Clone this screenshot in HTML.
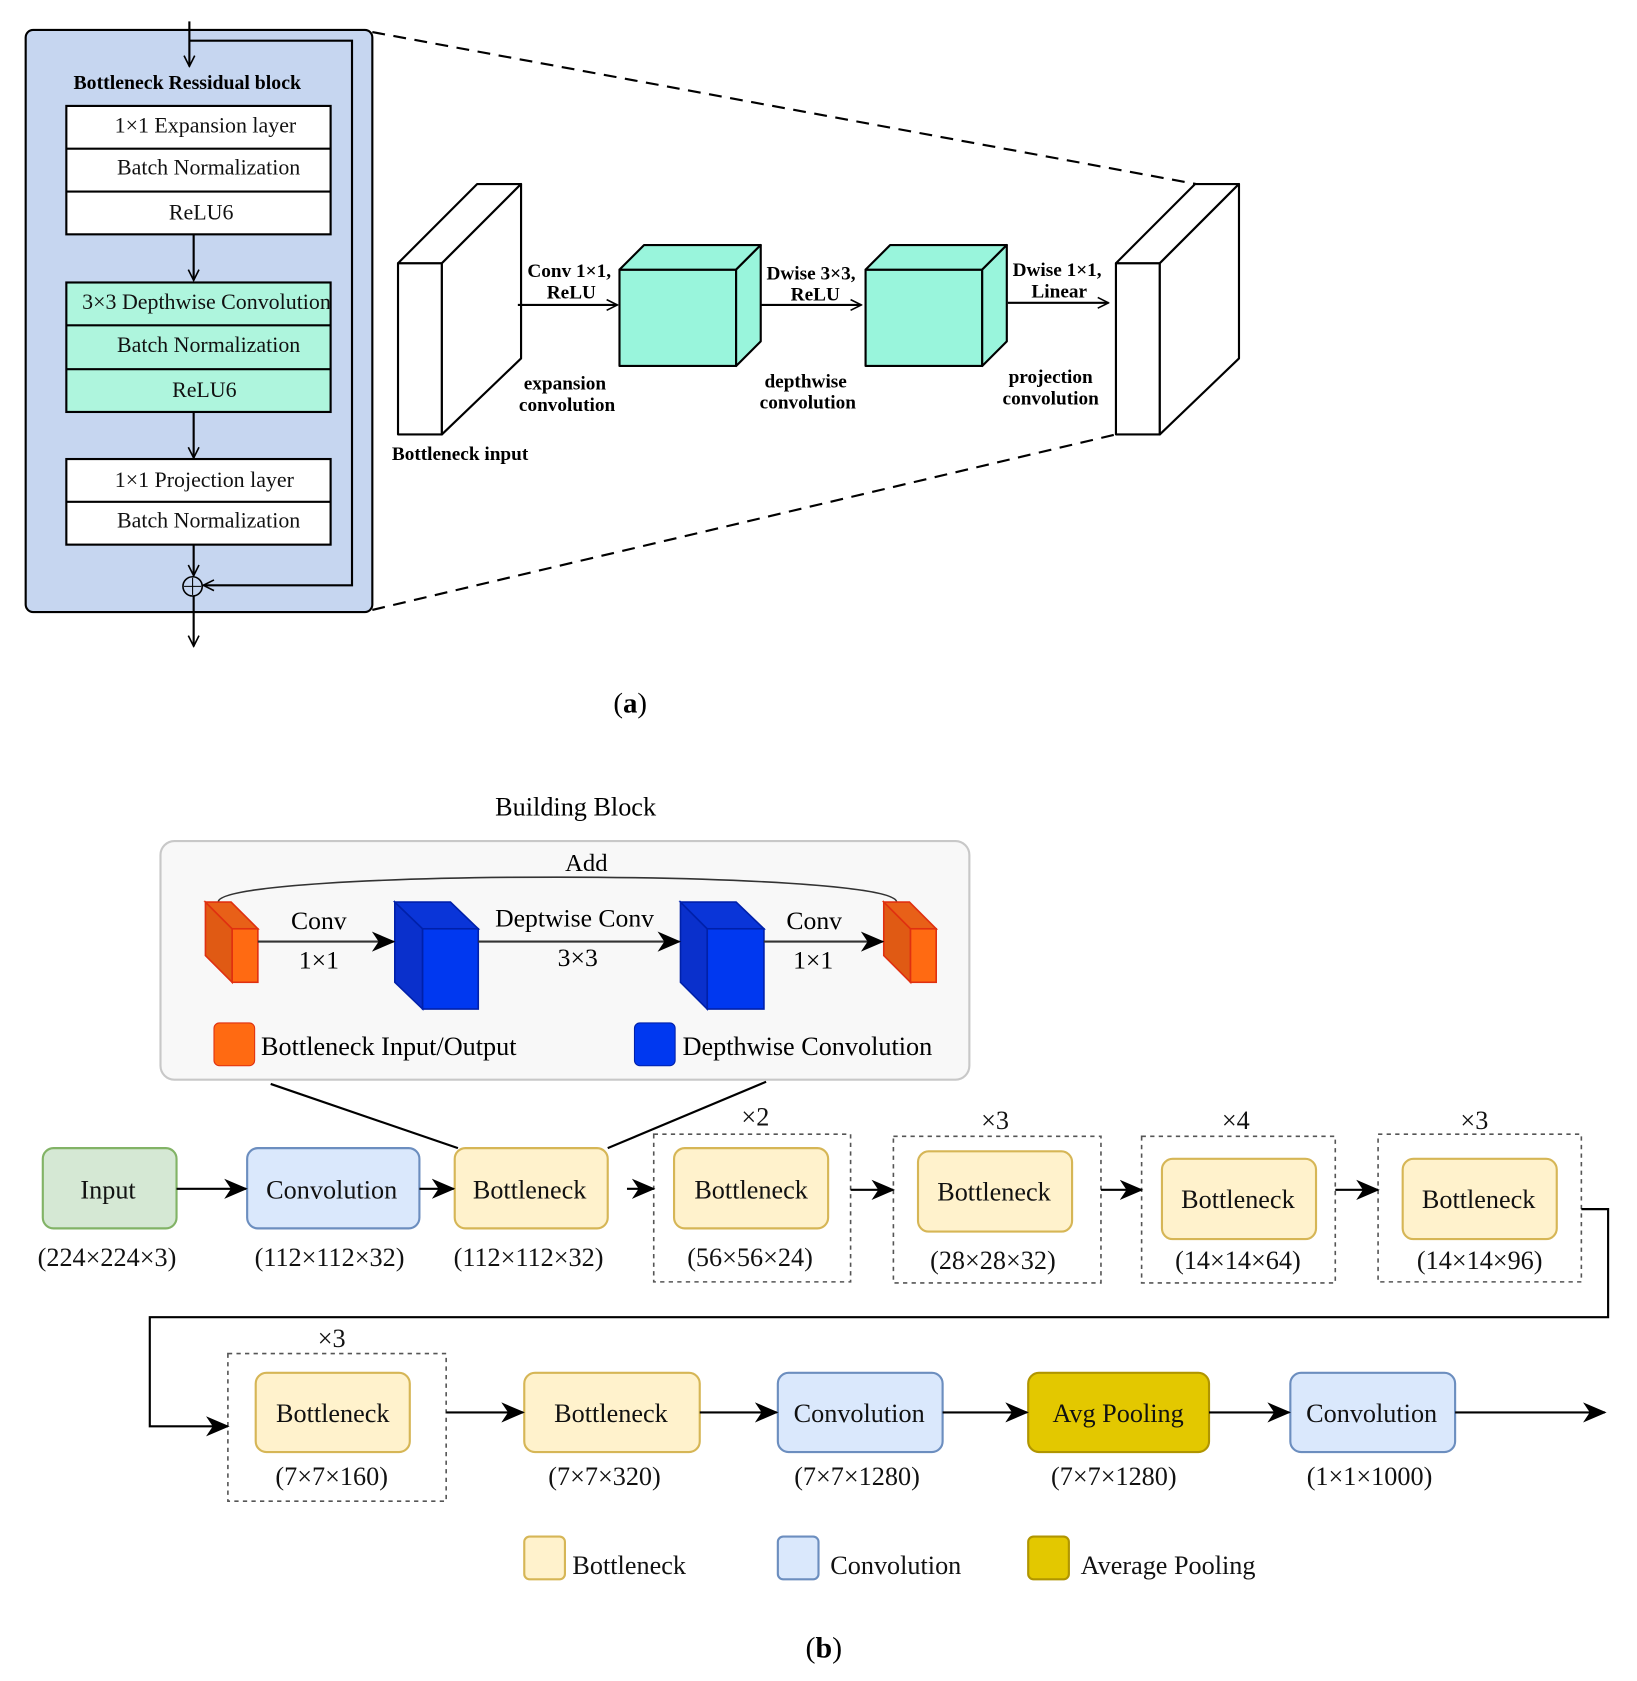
<!DOCTYPE html>
<html><head><meta charset="utf-8"><style>html,body{margin:0;padding:0;background:#fff}svg{display:block}</style></head><body>
<svg width="1637" height="1681" viewBox="0 0 1530 1571" preserveAspectRatio="none" xmlns="http://www.w3.org/2000/svg" font-family="Liberation Serif, serif">
<defs>
<marker id="o" viewBox="0 0 12 12" refX="11" refY="6" markerWidth="12" markerHeight="12" markerUnits="userSpaceOnUse" orient="auto"><path d="M1,1 L11,6 L1,11" fill="none" stroke="#000" stroke-width="1.5"/></marker>
<marker id="f" viewBox="0 0 14 14" refX="13" refY="7" markerWidth="22" markerHeight="22" markerUnits="userSpaceOnUse" orient="auto"><path d="M0,1 L14,7 L0,13 L4,7 Z" fill="#000"/></marker>
</defs>
<!-- (a) -->
<rect x="24" y="28" width="324" height="544" rx="7" fill="#c6d6f0" stroke="#000" stroke-width="2"/>
<line x1="177" y1="20" x2="177" y2="62" stroke="#000" stroke-width="2" marker-end="url(#o)"/>
<polyline points="177,38 329,38 329,547 190,547" fill="none" stroke="#000" stroke-width="2" marker-end="url(#o)"/>
<text x="175" y="83" font-size="18.5" font-weight="bold" text-anchor="middle">Bottleneck Ressidual block</text>
<g stroke="#000" stroke-width="2">
<rect x="62" y="99" width="247" height="120" fill="#fff"/><line x1="62" y1="139" x2="309" y2="139"/><line x1="62" y1="179" x2="309" y2="179"/>
<rect x="62" y="264" width="247" height="121" fill="#aef5dd"/><line x1="62" y1="304" x2="309" y2="304"/><line x1="62" y1="345" x2="309" y2="345"/>
<rect x="62" y="429" width="247" height="80" fill="#fff"/><line x1="62" y1="469" x2="309" y2="469"/>
<line x1="181" y1="219" x2="181" y2="262" marker-end="url(#o)"/>
<line x1="181" y1="385" x2="181" y2="428" marker-end="url(#o)"/>
<line x1="181" y1="509" x2="181" y2="538" marker-end="url(#o)"/>
<line x1="181" y1="557" x2="181" y2="604" marker-end="url(#o)"/>
</g>
<circle cx="180" cy="548" r="9" fill="none" stroke="#000" stroke-width="1.5"/><line x1="172" y1="548" x2="188" y2="548" stroke="#000"/><line x1="180" y1="540" x2="180" y2="556" stroke="#000"/>
<g font-size="20.5" text-anchor="middle" fill="#111">
<text x="192" y="124">1×1 Expansion layer</text><text x="195" y="163">Batch Normalization</text><text x="188" y="205">ReLU6</text>
<text x="193" y="289">3×3 Depthwise Convolution</text><text x="195" y="329">Batch Normalization</text><text x="191" y="371">ReLU6</text>
<text x="191" y="455">1×1 Projection layer</text><text x="195" y="493">Batch Normalization</text>
</g>
<g stroke="#000" stroke-width="2" stroke-dasharray="12,8"><line x1="348" y1="30" x2="1118" y2="172"/><line x1="348" y1="570" x2="1043" y2="406"/></g>
<g stroke="#000" stroke-width="2" stroke-linejoin="round">
<rect x="372" y="246" width="41" height="160" fill="#fff"/>
<polygon points="372,246 446,172 487,172 413,246" fill="#fff"/><polygon points="413,246 487,172 487,335 413,406" fill="#fff"/>
<rect x="579" y="252" width="109" height="90" fill="#99f5dc"/>
<polygon points="579,252 602,229 711,229 688,252" fill="#99f5dc"/><polygon points="688,252 711,229 711,319 688,342" fill="#99f5dc"/>
<rect x="809" y="252" width="109" height="90" fill="#99f5dc"/>
<polygon points="809,252 832,229 941,229 918,252" fill="#99f5dc"/><polygon points="918,252 941,229 941,319 918,342" fill="#99f5dc"/>
<rect x="1043" y="246" width="41" height="160" fill="#fff"/>
<polygon points="1043,246 1117,172 1158,172 1084,246" fill="#fff"/><polygon points="1084,246 1158,172 1158,335 1084,406" fill="#fff"/>
<line x1="484" y1="285" x2="577" y2="285" marker-end="url(#o)"/>
<line x1="711" y1="285" x2="805" y2="285" marker-end="url(#o)"/>
<line x1="942" y1="283" x2="1036" y2="283" marker-end="url(#o)"/>
</g>
<g font-size="18" font-weight="bold" text-anchor="middle">
<text x="532" y="259">Conv 1×1,</text><text x="534" y="279">ReLU</text>
<text x="758" y="261">Dwise 3×3,</text><text x="762" y="281">ReLU</text>
<text x="988" y="258">Dwise 1×1,</text><text x="990" y="278">Linear</text>
<text x="528" y="364">expansion</text><text x="530" y="384">convolution</text>
<text x="753" y="362">depthwise</text><text x="755" y="382">convolution</text>
<text x="982" y="358">projection</text><text x="982" y="378">convolution</text>
<text x="430" y="430">Bottleneck input</text>
</g>
<text x="589" y="666" font-size="27" text-anchor="middle">(<tspan font-weight="bold">a</tspan>)</text>
<!-- (b) -->
<text x="538" y="762" font-size="24.5" text-anchor="middle">Building Block</text>
<rect x="150" y="786" width="756" height="223" rx="13" fill="#f8f8f8" stroke="#c8c8c8" stroke-width="2"/>
<text x="548" y="814" font-size="23" text-anchor="middle">Add</text>
<path d="M204,843 C204,812 838,812 838,843" fill="none" stroke="#333" stroke-width="1.5"/>
<g stroke-width="1.5">
<polygon points="192,843 217,868 217,918 192,893" fill="#e05a14" stroke="#e03010"/><polygon points="192,843 216,843 241,868 217,868" fill="#e86018" stroke="#e03010"/><rect x="217" y="868" width="24" height="50" fill="#ff6a12" stroke="#e03010"/>
<polygon points="369,843 395,868 395,943 369,918" fill="#0a30cc" stroke="#0020aa"/><polygon points="369,843 421,843 447,868 395,868" fill="#0a35d8" stroke="#0020aa"/><rect x="395" y="868" width="52" height="75" fill="#0038f0" stroke="#0020aa"/>
<polygon points="636,843 661,868 661,943 636,918" fill="#0a30cc" stroke="#0020aa"/><polygon points="636,843 688,843 714,868 661,868" fill="#0a35d8" stroke="#0020aa"/><rect x="661" y="868" width="53" height="75" fill="#0038f0" stroke="#0020aa"/>
<polygon points="826,843 851,868 851,918 826,893" fill="#e05a14" stroke="#e03010"/><polygon points="826,843 850,843 875,868 851,868" fill="#e86018" stroke="#e03010"/><rect x="851" y="868" width="24" height="50" fill="#ff6a12" stroke="#e03010"/>
</g>
<g stroke="#333" stroke-width="2"><line x1="241" y1="880" x2="368" y2="880" marker-end="url(#f)"/><line x1="447" y1="880" x2="635" y2="880" marker-end="url(#f)"/><line x1="714" y1="880" x2="825" y2="880" marker-end="url(#f)"/></g>
<g font-size="24" text-anchor="middle"><text x="298" y="868">Conv</text><text x="298" y="905">1×1</text><text x="537" y="866">Deptwise Conv</text><text x="540" y="903">3×3</text><text x="761" y="868">Conv</text><text x="760" y="905">1×1</text></g>
<rect x="200" y="956" width="38" height="40" rx="5" fill="#ff6a12" stroke="#e03010"/><text x="244" y="986" font-size="24.5">Bottleneck Input/Output</text>
<rect x="593" y="956" width="38" height="40" rx="5" fill="#0038f0" stroke="#0020aa"/><text x="638" y="986" font-size="24.5">Depthwise Convolution</text>
<g stroke="#000" stroke-width="2"><line x1="253" y1="1013" x2="428" y2="1073"/><line x1="716" y1="1011" x2="568" y2="1073"/></g>
<g fill="none" stroke="#555" stroke-width="1.5" stroke-dasharray="4,4">
<rect x="611" y="1060" width="184" height="138"/><rect x="835" y="1062" width="194" height="137"/><rect x="1067" y="1062" width="181" height="137"/><rect x="1288" y="1060" width="190" height="138"/><rect x="213" y="1265" width="204" height="138"/>
</g>
<g stroke-width="2">
<rect x="40" y="1073" width="125" height="75" rx="10" fill="#d5e8d4" stroke="#82b366"/>
<rect x="231" y="1073" width="161" height="75" rx="10" fill="#dae8fc" stroke="#6c8ebf"/>
<rect x="425" y="1073" width="143" height="75" rx="10" fill="#fff2cc" stroke="#d6b656"/>
<rect x="630" y="1073" width="144" height="75" rx="10" fill="#fff2cc" stroke="#d6b656"/>
<rect x="858" y="1076" width="144" height="75" rx="10" fill="#fff2cc" stroke="#d6b656"/>
<rect x="1086" y="1083" width="144" height="75" rx="10" fill="#fff2cc" stroke="#d6b656"/>
<rect x="1311" y="1083" width="144" height="75" rx="10" fill="#fff2cc" stroke="#d6b656"/>
<rect x="239" y="1283" width="144" height="74" rx="10" fill="#fff2cc" stroke="#d6b656"/>
<rect x="490" y="1283" width="164" height="74" rx="10" fill="#fff2cc" stroke="#d6b656"/>
<rect x="727" y="1283" width="154" height="74" rx="10" fill="#dae8fc" stroke="#6c8ebf"/>
<rect x="961" y="1283" width="169" height="74" rx="10" fill="#e3c800" stroke="#b09500"/>
<rect x="1206" y="1283" width="154" height="74" rx="10" fill="#dae8fc" stroke="#6c8ebf"/>
<rect x="490" y="1436" width="38" height="40" rx="5" fill="#fff2cc" stroke="#d6b656"/>
<rect x="727" y="1436" width="38" height="40" rx="5" fill="#dae8fc" stroke="#6c8ebf"/>
<rect x="961" y="1436" width="38" height="40" rx="5" fill="#e3c800" stroke="#b09500"/>
</g>
<g stroke="#000" stroke-width="2" fill="none">
<line x1="165" y1="1111" x2="230" y2="1111" marker-end="url(#f)"/><line x1="392" y1="1111" x2="424" y2="1111" marker-end="url(#f)"/><line x1="586" y1="1111" x2="611" y2="1111" marker-end="url(#f)"/><line x1="795" y1="1112" x2="835" y2="1112" marker-end="url(#f)"/><line x1="1029" y1="1112" x2="1067" y2="1112" marker-end="url(#f)"/><line x1="1248" y1="1112" x2="1288" y2="1112" marker-end="url(#f)"/>
<polyline points="1478,1130 1503,1130 1503,1231 140,1231 140,1333 213,1333" marker-end="url(#f)"/>
<line x1="417" y1="1320" x2="489" y2="1320" marker-end="url(#f)"/><line x1="654" y1="1320" x2="726" y2="1320" marker-end="url(#f)"/><line x1="881" y1="1320" x2="960" y2="1320" marker-end="url(#f)"/><line x1="1130" y1="1320" x2="1205" y2="1320" marker-end="url(#f)"/><line x1="1360" y1="1320" x2="1500" y2="1320" marker-end="url(#f)"/>
</g>
<g font-size="24.5" text-anchor="middle" fill="#111">
<text x="101" y="1120">Input</text><text x="310" y="1120">Convolution</text><text x="495" y="1120">Bottleneck</text><text x="702" y="1120">Bottleneck</text><text x="929" y="1122">Bottleneck</text><text x="1157" y="1129">Bottleneck</text><text x="1382" y="1129">Bottleneck</text>
<text x="100" y="1183">(224×224×3)</text><text x="308" y="1183">(112×112×32)</text><text x="494" y="1183">(112×112×32)</text><text x="701" y="1183">(56×56×24)</text><text x="928" y="1186">(28×28×32)</text><text x="1157" y="1186">(14×14×64)</text><text x="1383" y="1186">(14×14×96)</text>
<text x="706" y="1052">×2</text><text x="930" y="1055">×3</text><text x="1155" y="1055">×4</text><text x="1378" y="1055">×3</text><text x="310" y="1259">×3</text>
<text x="311" y="1329">Bottleneck</text><text x="571" y="1329">Bottleneck</text><text x="803" y="1329">Convolution</text><text x="1045" y="1329">Avg Pooling</text><text x="1282" y="1329">Convolution</text>
<text x="310" y="1388">(7×7×160)</text><text x="565" y="1388">(7×7×320)</text><text x="801" y="1388">(7×7×1280)</text><text x="1041" y="1388">(7×7×1280)</text><text x="1280" y="1388">(1×1×1000)</text>
</g>
<g font-size="24.5" fill="#111"><text x="535" y="1471">Bottleneck</text><text x="776" y="1471">Convolution</text><text x="1010" y="1471">Average Pooling</text></g>
<text x="770" y="1549" font-size="28" text-anchor="middle">(<tspan font-weight="bold">b</tspan>)</text>
</svg>
</body></html>
